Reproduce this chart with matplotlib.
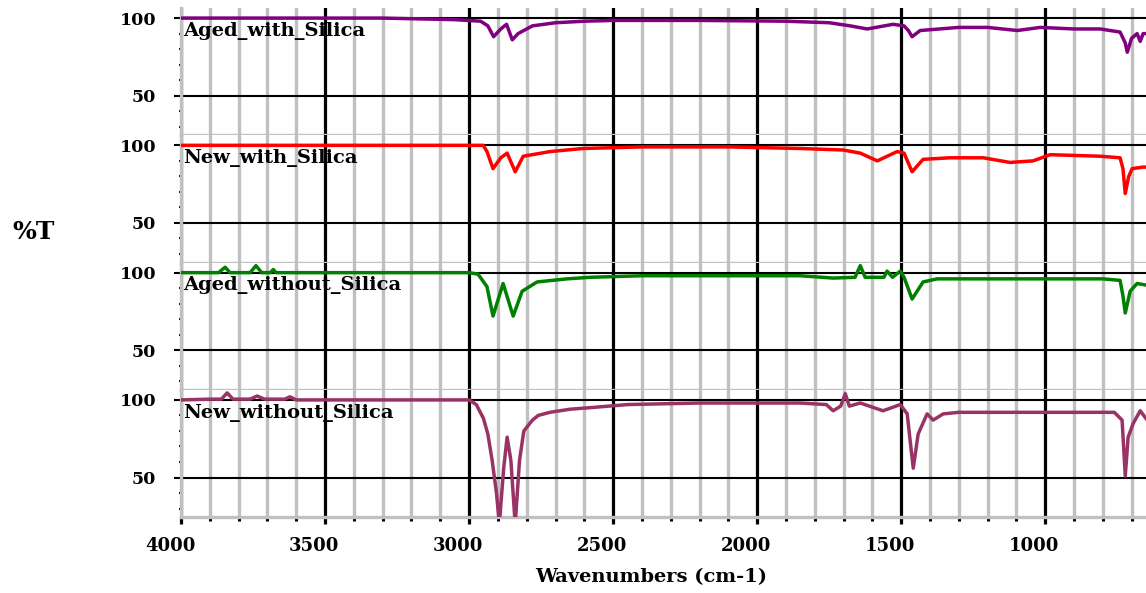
import matplotlib.pyplot as plt
from matplotlib.ticker import MultipleLocator, FixedLocator
from matplotlib.transforms import ScaledTranslation

# Spectra (wavenumber cm-1, %T)
aged_with_x = [4000, 3300, 3050, 2960, 2935, 2915, 2890, 2870, 2850, 2830, 2780, 2700, 2600, 2500,
               2200, 1900, 1750, 1677, 1618, 1528, 1490, 1475, 1462, 1434, 1300, 1200, 1097, 1017,
               900, 809, 740, 722, 715, 700, 681, 670, 660, 650]
aged_with_y = [100, 100, 99, 98, 95, 88, 93, 96, 86, 90, 95, 97, 98, 98.5,
               98.5, 98, 97, 95, 93, 96, 95, 92, 88, 92, 94, 94, 92, 94,
               93, 93, 91, 84, 78, 87, 90, 85, 90, 90]

new_with_x = [4000, 3500, 3000, 2951, 2938, 2917, 2890, 2868, 2840, 2812, 2719, 2604, 2400,
              2100, 1851, 1701, 1642, 1583, 1514, 1490, 1462, 1424, 1330, 1215, 1122, 1042, 983,
              809, 740, 730, 722, 710, 698, 660, 650]
new_with_y = [100, 100, 100, 100, 96, 85, 92, 95, 83, 93, 96, 98, 99,
              99, 98, 97, 95, 90, 96, 95, 83, 91, 92, 92, 89, 90, 94,
              93, 92, 85, 69, 80, 85, 86, 86]

aged_without_x = [4000, 3870, 3847, 3830, 3760, 3740, 3720, 3690, 3680, 3670, 3000, 2969, 2938,
                  2917, 2882, 2847, 2816, 2764, 2660, 2580, 2400, 2100, 1851, 1736, 1660, 1642,
                  1625, 1560, 1549, 1530, 1503, 1490, 1462, 1424, 1375, 1100, 800, 740, 730,
                  722, 705, 681, 650]
aged_without_y = [100, 100, 103.5, 100, 100, 104.5, 100, 100, 102, 100, 100, 99, 91,
                  72, 93, 72, 88, 94, 96, 97, 98, 98, 98, 96.5, 97, 104.5,
                  97, 97, 101, 97, 101, 97, 83, 94, 96, 96, 96, 95, 85,
                  74, 88, 93, 92]

new_without_x = [4000, 3900, 3860, 3840, 3820, 3760, 3736, 3710, 3640, 3622, 3600, 3000, 2975,
                 2950, 2935, 2920, 2905, 2895, 2880, 2868, 2855, 2840, 2825, 2810, 2780, 2760,
                 2720, 2650, 2580, 2450, 2200, 1850, 1760, 1736, 1710, 1694, 1680, 1642, 1563,
                 1503, 1479, 1469, 1458, 1441, 1410, 1389, 1354, 1300, 1000, 760, 733, 722,
                 712, 694, 670, 650]
new_without_y = [100, 100.5, 100.5, 104.5, 100.5, 100.5, 102.5, 100.5, 100.5, 102, 100, 100, 97,
                 88, 78, 61, 40, 20, 56, 76, 61, 20, 61, 80, 87, 90,
                 92, 94, 95, 97, 98, 98, 97, 93, 96, 104, 96, 98, 93,
                 97, 91, 74, 56, 78, 91, 87, 91, 92, 92, 92, 87, 51,
                 76, 85, 93, 88]

series = [
    ("Aged_with_Silica", aged_with_x, aged_with_y, "#800080"),
    ("New_with_Silica", new_with_x, new_with_y, "#ff0000"),
    ("Aged_without_Silica", aged_without_x, aged_without_y, "#008000"),
    ("New_without_Silica", new_without_x, new_without_y, "#993366"),
]

font = dict(family="DejaVu Serif", weight="heavy")
gray = "#c0c0c0"

fig, axes = plt.subplots(4, 1, figsize=(11.46, 5.93), dpi=100, sharex=True)
fig.subplots_adjust(left=0.158, right=1.0, top=0.9865, bottom=0.128, hspace=0)

for i, (ax, (name, x, y, c)) in enumerate(zip(axes, series)):
    ax.plot(x, y, color=c, lw=2.5, zorder=3)
    ax.set_xlim(4000, 650)
    ax.set_ylim(24.5, 106.5)

    ax.xaxis.set_major_locator(MultipleLocator(500))
    ax.xaxis.set_minor_locator(MultipleLocator(100))
    ax.yaxis.set_major_locator(FixedLocator([50, 100]))
    ax.yaxis.set_minor_locator(FixedLocator([30, 40, 60, 70, 80, 90]))

    ax.grid(which="minor", axis="x", color=gray, lw=2.4, zorder=0)
    ax.grid(which="major", axis="x", color="black", lw=2.3, zorder=1)
    ax.grid(which="major", axis="y", color="black", lw=1.5, zorder=1)
    ax.set_axisbelow(True)

    for s in ("top", "right"):
        ax.spines[s].set_visible(False)
    ax.spines["left"].set_color(gray)
    ax.spines["left"].set_linewidth(2.4)
    ax.spines["bottom"].set_color(gray)
    ax.spines["bottom"].set_linewidth(2.4)

    ax.tick_params(axis="y", which="major", direction="out", length=5, width=1.5,
                   color="black", pad=13)
    ax.tick_params(axis="y", which="minor", direction="inout", length=3, width=1.5, color="black")
    for lab in ax.get_yticklabels():
        lab.set_fontfamily(font["family"])
        lab.set_fontweight("heavy")
        lab.set_fontsize(12.5)

    if i < 3:
        ax.tick_params(axis="x", which="both", length=0, labelbottom=False)

    ax.text(0.002, 0.82, name, transform=ax.transAxes, fontsize=14, va="center", ha="left",
            zorder=4, **font)

bottom = axes[-1]
bottom.tick_params(axis="x", which="major", direction="out", length=5, width=2.3,
                   color="black", pad=9)
bottom.tick_params(axis="x", which="minor", direction="out", length=3, width=2.2, color="black")
bottom.set_xticks([4000, 3500, 3000, 2500, 2000, 1500, 1000])
bottom.set_xticklabels(["4000", "3500", "3000", "2500", "2000", "1500", "1000"])
shift = ScaledTranslation(-11 / 100, 0, fig.dpi_scale_trans)
for lab in bottom.get_xticklabels():
    lab.set_fontfamily(font["family"])
    lab.set_fontweight("heavy")
    lab.set_fontsize(13)
    lab.set_transform(lab.get_transform() + shift)

fig.text(0.568, 0.027, "Wavenumbers (cm-1)", ha="center", va="center", fontsize=14, **font)
fig.text(0.029, 0.608, "%T", ha="center", va="center", fontsize=18, **font)

fig.savefig("out.png", dpi=100)
